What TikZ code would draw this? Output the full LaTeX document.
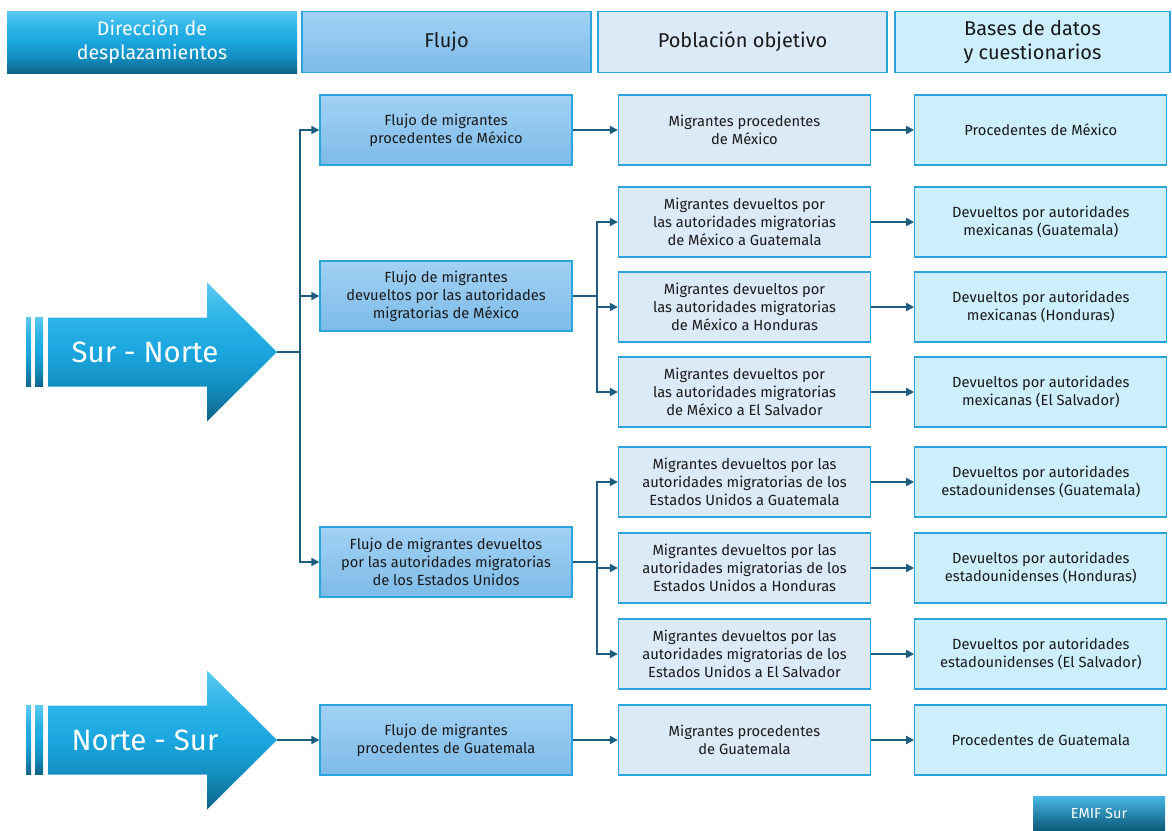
\documentclass[tikz,border=0pt]{standalone}
\usepackage{fontspec}
\setmainfont{Fira Sans}
\usetikzlibrary{arrows.meta,positioning}

\definecolor{linea}{HTML}{1D5E80}
\definecolor{borde}{HTML}{2AA4DC}
\definecolor{flujoA}{HTML}{A2D1F4}
\definecolor{flujoB}{HTML}{7DBBE8}
\definecolor{poblF}{HTML}{DCE9F6}
\definecolor{baseF}{HTML}{CDEEFB}
\definecolor{azulA}{HTML}{5CC9F1}
\definecolor{azulAB}{HTML}{2CB3E6}
\definecolor{azulB}{HTML}{1AA6DF}
\definecolor{azulBC}{HTML}{148FC0}
\definecolor{azulC}{HTML}{0D6488}
\definecolor{texto}{HTML}{1A1A1A}

\pgfdeclareverticalshading{azulsombra}{100bp}{color(0bp)=(azulC); color(25bp)=(azulC);
    color(38bp)=(azulBC); color(50bp)=(azulB); color(62bp)=(azulAB); color(75bp)=(azulA); color(100bp)=(azulA)}

\tikzset{
    caja/.style={draw=borde, line width=1.3pt, minimum width=252pt, minimum height=70pt,
        inner sep=0pt, align=center, text=texto, font=\fontsize{14.7}{18}\selectfont},
    flujo/.style={caja, top color=flujoA, bottom color=flujoB},
    pobl/.style={caja, fill=poblF},
    base/.style={caja, fill=baseF},
    cabeza/.style={minimum height=61pt, font=\fontsize{20}{24}\selectfont},
    azul/.style={shading=azulsombra},
    conector/.style={draw=linea, line width=1.8pt, -{Triangle[length=8pt,width=8pt]}},
    tronco/.style={draw=linea, line width=1.8pt},
}

\begin{document}
\begin{tikzpicture}[x=1pt,y=-1pt]
    \useasboundingbox (0,0) rectangle (1172,830);

    % cabeceras
    \node[azul, minimum width=290pt, minimum height=62pt, inner sep=0pt, align=center,
        text=white, font=\fontsize{19.6}{24}\selectfont] (h1) at (152,42) {Dirección de\\desplazamientos};
    \node[flujo, cabeza, minimum width=289pt] (h2) at (446.5,42) {Flujo};
    \node[pobl, cabeza, minimum width=289pt] (h3) at (742.5,42) {Población objetivo};
    \node[base, cabeza, minimum width=275pt] (h4) at (1032.5,42) {Bases de datos\\y cuestionarios};

    % flechas grandes
    \foreach \y/\nombre/\texto in {352/sn/Sur - Norte, 740/ns/Norte - Sur} {
        \shade[azul] (26,\y-34.5) rectangle (31,\y+34.5);
        \shade[azul] (35,\y-34.5) rectangle (43,\y+34.5);
        \shade[azul] (48,\y-34.5) -- (207,\y-34.5) -- (207,\y-69.5) -- (277,\y)
            -- (207,\y+69.5) -- (207,\y+34.5) -- (48,\y+34.5) -- cycle;
        \node[text=white, font=\fontsize{29.4}{32}\selectfont] (\nombre-txt) at (145,\y) {\texto};
        \coordinate (\nombre) at (277,\y);
    }

    % flujo
    \node[flujo] (f1) at (446,130) {Flujo de migrantes\\procedentes de México};
    \node[flujo] (f2) at (446,296) {Flujo de migrantes\\devueltos por las autoridades\\migratorias de México};
    \node[flujo] (f3) at (446,562) {Flujo de migrantes devueltos\\por las autoridades migratorias\\de los Estados Unidos};
    \node[flujo] (f4) at (446,740) {Flujo de migrantes\\procedentes de Guatemala};

    % poblacion objetivo
    \node[pobl] (p1) at (744.5,130) {Migrantes procedentes\\de México};
    \node[pobl] (p2) at (744.5,222) {Migrantes devueltos por\\las autoridades migratorias\\de México a Guatemala};
    \node[pobl] (p3) at (744.5,307) {Migrantes devueltos por\\las autoridades migratorias\\de México a Honduras};
    \node[pobl] (p4) at (744.5,392) {Migrantes devueltos por\\las autoridades migratorias\\de México a El Salvador};
    \node[pobl] (p5) at (744.5,482) {Migrantes devueltos por las\\autoridades migratorias de los\\Estados Unidos a Guatemala};
    \node[pobl] (p6) at (744.5,568) {Migrantes devueltos por las\\autoridades migratorias de los\\Estados Unidos a Honduras};
    \node[pobl] (p7) at (744.5,654) {Migrantes devueltos por las\\autoridades migratorias de los\\Estados Unidos a El Salvador};
    \node[pobl] (p8) at (744.5,740) {Migrantes procedentes\\de Guatemala};

    % bases de datos
    \node[base, right=43pt of p1] (b1) {Procedentes de México};
    \node[base, right=43pt of p2] (b2) {Devueltos por autoridades\\mexicanas (Guatemala)};
    \node[base, right=43pt of p3] (b3) {Devueltos por autoridades\\mexicanas (Honduras)};
    \node[base, right=43pt of p4] (b4) {Devueltos por autoridades\\mexicanas (El Salvador)};
    \node[base, right=43pt of p5] (b5) {Devueltos por autoridades\\estadounidenses (Guatemala)};
    \node[base, right=43pt of p6] (b6) {Devueltos por autoridades\\estadounidenses (Honduras)};
    \node[base, right=43pt of p7] (b7) {Devueltos por autoridades\\estadounidenses (El Salvador)};
    \node[base, right=43pt of p8] (b8) {Procedentes de Guatemala};

    % conectores
    \draw[tronco] (sn) -- ++(23,0) coordinate (ramaA);
    \draw[conector] (ramaA) |- (f1);
    \draw[conector] (ramaA) |- (f2);
    \draw[conector] (ramaA) |- (f3);
    \draw[conector] (ns) -- (f4);

    \draw[tronco] (f2.east) -- ++(24,0) coordinate (ramaB);
    \draw[conector] (ramaB) |- (p2);
    \draw[conector] (ramaB) |- (p3);
    \draw[conector] (ramaB) |- (p4);
    \draw[tronco] (f3.east) -- ++(24,0) coordinate (ramaC);
    \draw[conector] (ramaC) |- (p5);
    \draw[conector] (ramaC) |- (p6);
    \draw[conector] (ramaC) |- (p7);
    \draw[conector] (f1) -- (p1);
    \draw[conector] (f4) -- (p8);

    \foreach \i in {1,...,8}
        \draw[conector] (p\i) -- (b\i);

    \node[top color=azulB!80, bottom color=azulC!90!black, minimum width=132pt, minimum height=34pt,
        inner sep=0pt, text=white, font=\fontsize{14.5}{16}\selectfont] (emif) at (1099,813) {EMIF Sur};
\end{tikzpicture}
\end{document}
